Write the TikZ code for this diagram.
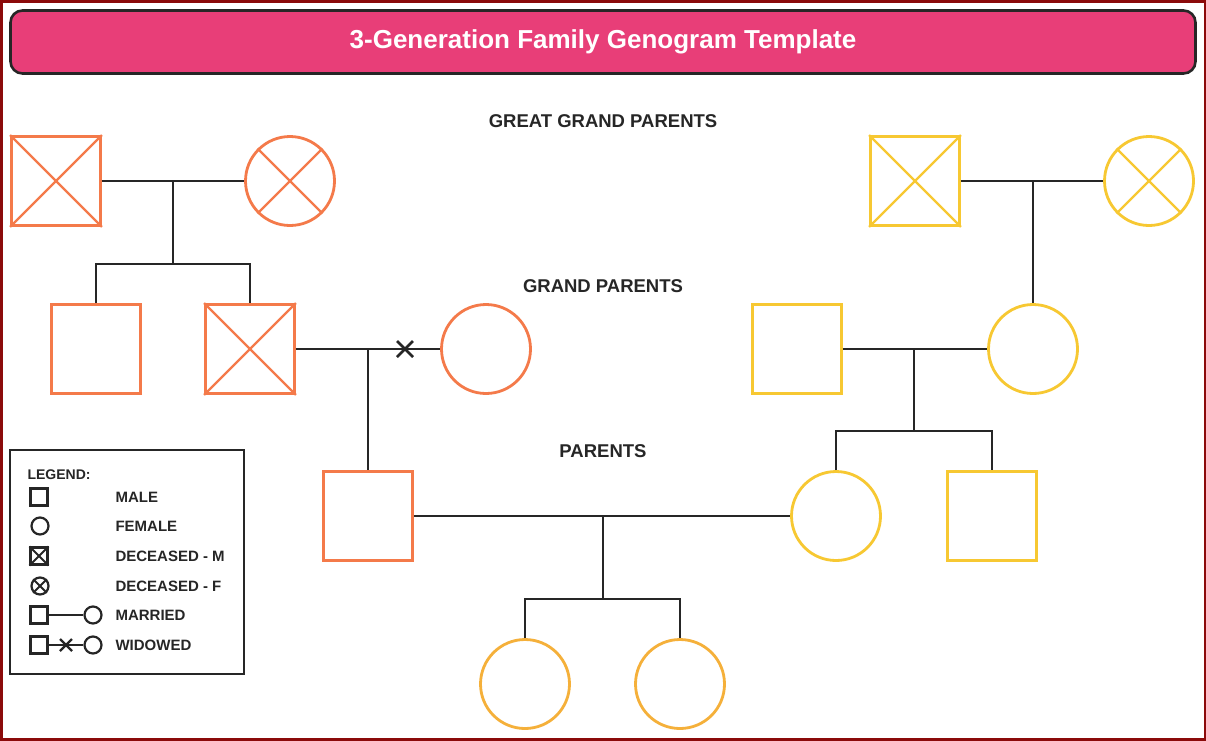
\documentclass[tikz,border=0pt]{standalone}
\usepackage{fontspec}
\setmainfont{Liberation Sans}
\begin{document}
\begin{tikzpicture}[x=1pt,y=-1pt,
  ln/.style={line width=2.6pt,draw=black!85},
  m/.style={draw=#1,line width=2.8pt,minimum size=89pt,inner sep=0,rectangle},
  f/.style={draw=#1,line width=2.8pt,minimum size=89pt,inner sep=0,circle},
  dm/.style={m=#1,append after command={(\tikzlastnode.north west) edge[line width=2.2pt,draw=#1] (\tikzlastnode.south east) (\tikzlastnode.north east) edge[line width=2.2pt,draw=#1] (\tikzlastnode.south west)}},
  df/.style={f=#1,append after command={(\tikzlastnode.north west) edge[line width=2.2pt,draw=#1] (\tikzlastnode.south east) (\tikzlastnode.north east) edge[line width=2.2pt,draw=#1] (\tikzlastnode.south west)}},
  hd/.style={font=\bfseries\fontsize{18.5}{20}\selectfont,text=black!85},
  lt/.style={font=\bfseries\fontsize{15}{16}\selectfont,text=black!85,anchor=west},
  ls/.style={draw=black!85,line width=2.2pt,inner sep=0}]
\definecolor{org}{HTML}{F47A4A}
\definecolor{yel}{HTML}{F7C832}
\definecolor{amb}{HTML}{F5B03A}
\definecolor{pk}{HTML}{E83E78}
\definecolor{frame}{HTML}{8B0A0A}
\useasboundingbox (0,0) rectangle (1206,740);
\fill[white] (0,0) rectangle (1206,740);
\draw[frame,line width=3pt] (1,1) rectangle (1205,739);
\node[draw=black!85,fill=pk,line width=2.6pt,rounded corners=12pt,minimum width=1185pt,minimum height=63pt,text=white,font=\bfseries\fontsize{26}{28}\selectfont] (title) at (603,42) {3-Generation Family Genogram Template};
\node[hd] (h1) at (603,121) {GREAT GRAND PARENTS};
\node[hd] (h2) at (603,286) {GRAND PARENTS};
\node[hd] (h3) at (603,451) {PARENTS};
% orange side
\node[dm=org] (ggf1) at (56,181) {};
\node[df=org] (ggm1) at (290,181) {};
\node[m=org] (u1) at (96,349) {};
\node[dm=org] (gf1) at (250,349) {};
\node[f=org] (gm1) at (486,349) {};
\node[m=org] (fa) at (368,516) {};
% yellow side
\node[dm=yel] (ggf2) at (915,181) {};
\node[df=yel] (ggm2) at (1149,181) {};
\node[m=yel] (gf2) at (797,349) {};
\node[f=yel] (gm2) at (1033,349) {};
\node[f=yel] (mo) at (836,516) {};
\node[m=yel] (u2) at (992,516) {};
% children
\node[f=amb] (c1) at (525,684) {};
\node[f=amb] (c2) at (680,684) {};
% connectors
\coordinate (j1) at (173,181); \coordinate (j1b) at (173,264);
\draw[ln] (ggf1) -- (ggm1);
\draw[ln] (j1) -- (j1b);
\draw[ln] (u1.north) |- (j1b) -| (gf1.north);
\draw[ln] (gf1) -- (gm1);
\coordinate (x1) at (405,349);
\draw[ln] ([shift={(-8,-8)}]x1) -- ([shift={(8,8)}]x1) ([shift={(8,-8)}]x1) -- ([shift={(-8,8)}]x1);
\coordinate (j2) at (368,349);
\draw[ln] (j2) -- (fa.north);
\coordinate (j3) at (1033,181);
\draw[ln] (ggf2) -- (ggm2);
\draw[ln] (j3) -- (gm2.north);
\draw[ln] (gf2) -- (gm2);
\coordinate (j4) at (914,349); \coordinate (j4b) at (914,431);
\draw[ln] (j4) -- (j4b);
\draw[ln] (mo.north) |- (j4b) -| (u2.north);
\draw[ln] (fa) -- (mo);
\coordinate (j5) at (603,516); \coordinate (j5b) at (603,599);
\draw[ln] (j5) -- (j5b);
\draw[ln] (c1.north) |- (j5b) -| (c2.north);
% legend
\node[draw=black!85,line width=2.6pt,minimum width=234pt,minimum height=224pt] (leg) at (127,562) {};
\node[lt,font=\bfseries\fontsize{14}{16}\selectfont] (lg) at (24,475) {LEGEND:};
\node[ls,rectangle,minimum size=17pt] (s1) at (39,497) {};
\node[lt] at (112,497) {MALE};
\node[ls,circle,minimum size=17pt] (s2) at (40,526) {};
\node[lt] at (112,526) {FEMALE};
\node[ls,rectangle,minimum size=17pt] (s3) at (39,556) {};
\draw[line width=2pt,black!85] (s3.north west) -- (s3.south east) (s3.north east) -- (s3.south west);
\node[lt] at (112,556) {DECEASED - M};
\node[ls,circle,minimum size=17pt] (s4) at (40,586) {};
\draw[line width=2pt,black!85] (s4.north west) -- (s4.south east) (s4.north east) -- (s4.south west);
\node[lt] at (112,586) {DECEASED - F};
\node[ls,rectangle,minimum size=17pt] (s5a) at (39,615) {};
\node[ls,circle,minimum size=17pt] (s5b) at (93,615) {};
\draw[line width=2.2pt,black!85] (s5a) -- (s5b);
\node[lt] at (112,615) {MARRIED};
\node[ls,rectangle,minimum size=17pt] (s6a) at (39,645) {};
\node[ls,circle,minimum size=17pt] (s6b) at (93,645) {};
\draw[line width=2.2pt,black!85] (s6a) -- (s6b);
\coordinate (x2) at (66,645);
\draw[line width=2.2pt,black!85] ([shift={(-6,-6)}]x2) -- ([shift={(6,6)}]x2) ([shift={(6,-6)}]x2) -- ([shift={(-6,6)}]x2);
\node[lt] at (112,645) {WIDOWED};
\end{tikzpicture}
\end{document}
